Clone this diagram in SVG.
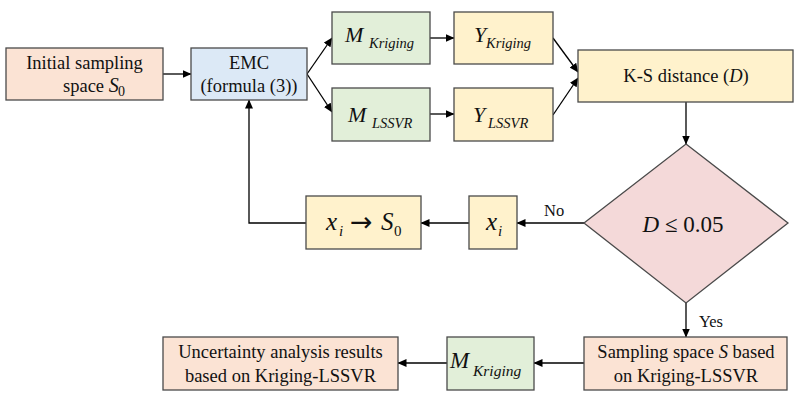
<svg xmlns="http://www.w3.org/2000/svg" width="800" height="400" viewBox="0 0 800 400">
<defs>
<marker id="ah" markerWidth="9" markerHeight="8" refX="8.5" refY="4" orient="auto" markerUnits="userSpaceOnUse">
<path d="M0,0 L9,4 L0,8 z" fill="#000"/>
</marker>
<style>
.box{stroke:#4a4a4a;stroke-width:1.3}
.peach{fill:#fbe3d4}
.blue{fill:#dce9f6}
.green{fill:#e2efd9}
.yellow{fill:#fff2cc}
.pink{fill:#f4d9d9}
text{font-family:"Liberation Serif","Times New Roman",serif;fill:#111}
.t{font-size:18.5px}
.c{text-anchor:middle}
.it{font-style:italic}
.big{font-size:22px;font-style:italic}
.sub{font-size:14.5px;font-style:italic}
.conn{stroke:#000;stroke-width:1.3;fill:none}
</style>
</defs>
<g id="connectors">
<line class="conn" x1="163" y1="74" x2="191" y2="74" marker-end="url(#ah)"/>
<line class="conn" x1="307" y1="74" x2="332" y2="38" marker-end="url(#ah)"/>
<line class="conn" x1="307" y1="74" x2="332" y2="112" marker-end="url(#ah)"/>
<line class="conn" x1="430" y1="38" x2="454" y2="38" marker-end="url(#ah)"/>
<line class="conn" x1="430" y1="114" x2="454" y2="114" marker-end="url(#ah)"/>
<line class="conn" x1="553" y1="38" x2="578" y2="72" marker-end="url(#ah)"/>
<line class="conn" x1="553" y1="115" x2="578" y2="78" marker-end="url(#ah)"/>
<line class="conn" x1="686" y1="102" x2="686" y2="144" marker-end="url(#ah)"/>
<line class="conn" x1="584" y1="223" x2="517" y2="223" marker-end="url(#ah)"/>
<line class="conn" x1="469" y1="223" x2="421" y2="223" marker-end="url(#ah)"/>
<polyline class="conn" points="306,223 249,223 249,100" marker-end="url(#ah)"/>
<line class="conn" x1="686" y1="303" x2="686" y2="337" marker-end="url(#ah)"/>
<line class="conn" x1="584" y1="363" x2="534" y2="363" marker-end="url(#ah)"/>
<line class="conn" x1="447" y1="363" x2="398" y2="363" marker-end="url(#ah)"/>
<text x="544" y="216" style="font-size:16.5px">No</text>
<text x="699" y="327" style="font-size:16.5px">Yes</text>
</g>
<g id="initial">
<rect class="box peach" x="6" y="48" width="157" height="52"/>
<text class="t c" x="84.5" y="69">Initial sampling</text>
<text class="t" x="63" y="92">space <tspan class="it" style="font-size:20px">S</tspan><tspan x="118" y="96" style="font-size:14px">0</tspan></text>
</g>
<g id="emc">
<rect class="box blue" x="191" y="48" width="116" height="52"/>
<text class="t c" x="249" y="69">EMC</text>
<text class="t c" x="249" y="92">(formula (3))</text>
</g>
<g id="m-kriging">
<rect class="box green" x="332" y="12" width="98" height="52"/>
<text class="big" x="345" y="42">M</text>
<text class="sub" x="369" y="48">Kriging</text>
</g>
<g id="y-kriging">
<rect class="box yellow" x="454" y="12" width="99" height="52"/>
<text class="big" x="474" y="42">Y</text>
<text class="sub" x="486" y="48">Kriging</text>
</g>
<g id="m-lssvr">
<rect class="box green" x="332" y="88" width="98" height="53"/>
<text class="big" x="348" y="122">M</text>
<text class="sub" x="372" y="128">LSSVR</text>
</g>
<g id="y-lssvr">
<rect class="box yellow" x="454" y="88" width="99" height="53"/>
<text class="big" x="473" y="122">Y</text>
<text class="sub" x="488" y="128">LSSVR</text>
</g>
<g id="ks">
<rect class="box yellow" x="578" y="50" width="215" height="52"/>
<text class="t c" x="686" y="82">K-S distance (<tspan class="it">D</tspan>)</text>
</g>
<g id="decision">
<polygon class="box pink" points="686,144 788,223 686,303 584,223"/>
<text class="c" x="683" y="232" style="font-size:23px"><tspan class="it">D</tspan> ≤ 0.05</text>
</g>
<g id="xi">
<rect class="box yellow" x="469" y="196" width="48" height="53"/>
<text style="font-size:25px" class="it" x="486" y="230">x</text>
<text style="font-size:15px" class="it" x="498" y="236">i</text>
</g>
<g id="xi-s0">
<rect class="box yellow" x="306" y="196" width="115" height="53"/>
<text style="font-size:25px" class="it" x="326" y="230">x</text>
<text style="font-size:15px" class="it" x="339" y="236">i</text>
<text style="font-size:27px;font-family:'DejaVu Sans',sans-serif" x="350" y="231">→</text>
<text style="font-size:25px" class="it" x="381" y="230">S</text>
<text style="font-size:15px" x="394" y="236">0</text>
</g>
<g id="sampling">
<rect class="box peach" x="584" y="337" width="203" height="53"/>
<text class="t c" x="686" y="358">Sampling space <tspan class="it">S</tspan> based</text>
<text class="t c" x="686" y="382">on Kriging-LSSVR</text>
</g>
<g id="m-kriging-2">
<rect class="box green" x="447" y="337" width="87" height="53"/>
<text class="big" x="450" y="368" style="font-size:23px">M</text>
<text class="sub" x="473" y="376" style="font-size:15.5px">Kriging</text>
</g>
<g id="result">
<rect class="box peach" x="163" y="337" width="235" height="53"/>
<text class="t c" x="280.5" y="358">Uncertainty analysis results</text>
<text class="t c" x="280.5" y="382">based on Kriging-LSSVR</text>
</g>
</svg>
